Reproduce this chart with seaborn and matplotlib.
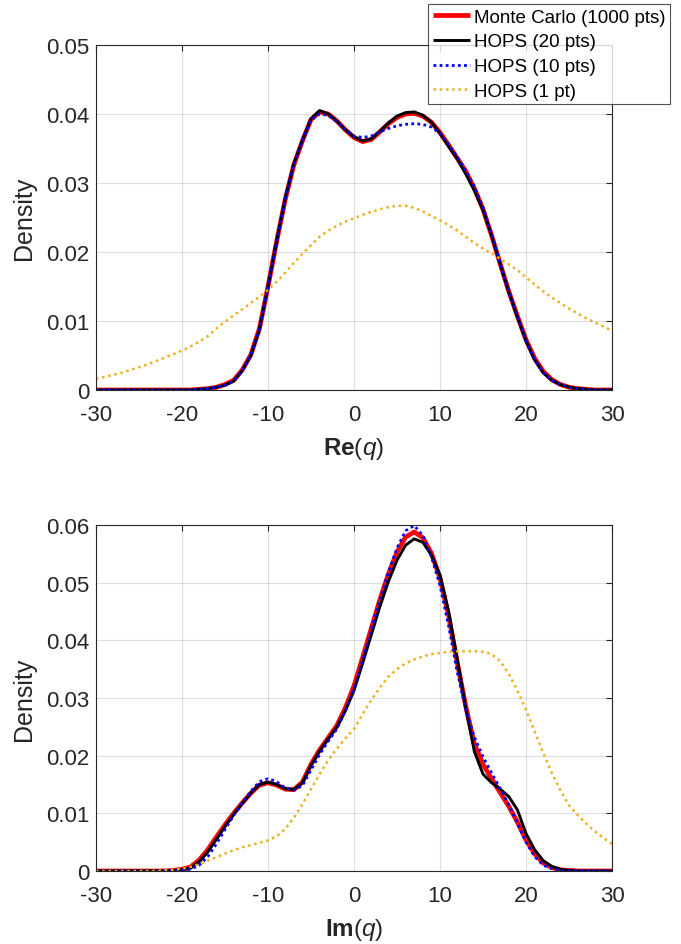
import numpy as np
import pandas as pd
import matplotlib
matplotlib.use("Agg")
import matplotlib.pyplot as plt
import seaborn as sns

# ---------------- data ----------------
q_grid = list(range(-30, 31))

re_mc = [0.0]*12 + [0.0001, 0.0002, 0.0004, 0.0008, 0.0014, 0.0029, 0.0051, 0.0089, 0.0150,
         0.0215, 0.0276, 0.0326, 0.0361, 0.0392, 0.0403, 0.0400, 0.0390, 0.0377, 0.0366,
         0.0360, 0.0363, 0.0374, 0.0386, 0.0395, 0.0400, 0.0401, 0.0397, 0.0388, 0.0373,
         0.0355, 0.0336, 0.0317, 0.0292, 0.0262, 0.0224, 0.0183, 0.0143, 0.0107, 0.0073,
         0.0046, 0.0027, 0.0015, 0.0008, 0.0004, 0.0002, 0.0001, 0.0, 0.0, 0.0]
re_h20 = [0.0]*12 + [0.0001, 0.0002, 0.0004, 0.0007, 0.0013, 0.0028, 0.0050, 0.0088, 0.0150,
          0.0216, 0.0278, 0.0328, 0.0362, 0.0393, 0.0405, 0.0400, 0.0390, 0.0377, 0.0367,
          0.0361, 0.0364, 0.0375, 0.0387, 0.0397, 0.0402, 0.0403, 0.0398, 0.0388, 0.0372,
          0.0353, 0.0335, 0.0313, 0.0289, 0.0261, 0.0224, 0.0182, 0.0142, 0.0106, 0.0071,
          0.0044, 0.0025, 0.0014, 0.0008, 0.0004, 0.0002, 0.0001, 0.0, 0.0, 0.0]
re_h10 = [0.0]*12 + [0.0001, 0.0002, 0.0004, 0.0007, 0.0013, 0.0028, 0.0050, 0.0088, 0.0149,
          0.0214, 0.0276, 0.0327, 0.0361, 0.0391, 0.0400, 0.0398, 0.0389, 0.0377, 0.0368,
          0.0366, 0.0368, 0.0374, 0.0379, 0.0383, 0.0385, 0.0386, 0.0385, 0.0381, 0.0372,
          0.0356, 0.0338, 0.0318, 0.0295, 0.0265, 0.0226, 0.0184, 0.0143, 0.0106, 0.0071,
          0.0044, 0.0025, 0.0014, 0.0008, 0.0004, 0.0002, 0.0001, 0.0, 0.0, 0.0]
re_h1 = [0.0016, 0.0019, 0.0022, 0.0025, 0.0029, 0.0033, 0.0037, 0.0042, 0.0047, 0.0052,
         0.0057, 0.0063, 0.0070, 0.0078, 0.0089, 0.0099, 0.0108, 0.0117, 0.0126, 0.0135,
         0.0145, 0.0157, 0.0170, 0.0184, 0.0197, 0.0210, 0.0222, 0.0231, 0.0238, 0.0244,
         0.0249, 0.0254, 0.0258, 0.0262, 0.0265, 0.0267, 0.0267, 0.0264, 0.0259, 0.0252,
         0.0246, 0.0239, 0.0231, 0.0222, 0.0213, 0.0205, 0.0198, 0.0190, 0.0182, 0.0174,
         0.0163, 0.0153, 0.0143, 0.0134, 0.0126, 0.0118, 0.0111, 0.0104, 0.0098, 0.0092, 0.0086]

im_mc = [0.0]*9 + [0.0001, 0.0003, 0.0007, 0.0019, 0.0037, 0.0059, 0.0080, 0.0100, 0.0118,
         0.0135, 0.0149, 0.0153, 0.0149, 0.0142, 0.0141, 0.0154, 0.0185, 0.0210, 0.0231,
         0.0252, 0.0283, 0.0321, 0.0370, 0.0420, 0.0470, 0.0515, 0.0553, 0.0579, 0.0588,
         0.0578, 0.0551, 0.0508, 0.0443, 0.0362, 0.0285, 0.0220, 0.0185, 0.0160, 0.0136,
         0.0112, 0.0085, 0.0054, 0.0030, 0.0014, 0.0006, 0.0002, 0.0001, 0.0, 0.0, 0.0, 0.0, 0.0]
im_h20 = [0.0]*9 + [0.0001, 0.0002, 0.0005, 0.0016, 0.0033, 0.0055, 0.0077, 0.0098, 0.0117,
          0.0135, 0.0150, 0.0154, 0.0150, 0.0143, 0.0141, 0.0153, 0.0183, 0.0208, 0.0229,
          0.0249, 0.0278, 0.0313, 0.0360, 0.0409, 0.0458, 0.0502, 0.0539, 0.0565, 0.0576,
          0.0570, 0.0548, 0.0513, 0.0450, 0.0368, 0.0282, 0.0207, 0.0168, 0.0153, 0.0142,
          0.0129, 0.0106, 0.0065, 0.0037, 0.0018, 0.0008, 0.0003, 0.0001, 0.0, 0.0, 0.0, 0.0, 0.0]
im_h10 = [0.0]*10 + [0.0001, 0.0003, 0.0010, 0.0025, 0.0047, 0.0072, 0.0096, 0.0118,
          0.0138, 0.0155, 0.0160, 0.0155, 0.0144, 0.0140, 0.0148, 0.0175, 0.0202, 0.0225,
          0.0246, 0.0278, 0.0315, 0.0365, 0.0418, 0.0470, 0.0518, 0.0560, 0.0590, 0.0599,
          0.0582, 0.0545, 0.0495, 0.0425, 0.0345, 0.0280, 0.0232, 0.0198, 0.0170, 0.0143,
          0.0115, 0.0083, 0.0050, 0.0025, 0.0010, 0.0004, 0.0001, 0.0, 0.0, 0.0, 0.0, 0.0, 0.0]
im_h1 = [0.0]*8 + [0.0001, 0.0002, 0.0004, 0.0007, 0.0012, 0.0018, 0.0024, 0.0030, 0.0036,
         0.0041, 0.0045, 0.0049, 0.0053, 0.0060, 0.0073, 0.0092, 0.0116, 0.0142, 0.0168,
         0.0192, 0.0212, 0.0230, 0.0246, 0.0272, 0.0296, 0.0318, 0.0337, 0.0350, 0.0360,
         0.0367, 0.0372, 0.0376, 0.0378, 0.0380, 0.0381, 0.0381, 0.0381, 0.0380, 0.0376,
         0.0364, 0.0342, 0.0313, 0.0280, 0.0242, 0.0205, 0.0170, 0.0140, 0.0114, 0.0097,
         0.0082, 0.0069, 0.0057, 0.0047]

series_labels = ["Monte Carlo (1000 pts)", "HOPS (20 pts)", "HOPS (10 pts)", "HOPS (1 pt)"]
x_ticks = [-30, -20, -10, 0, 10, 20, 30]
re_yticks = [0, 0.01, 0.02, 0.03, 0.04, 0.05]
im_yticks = [0, 0.01, 0.02, 0.03, 0.04, 0.05, 0.06]

# ---------------- style ----------------
sns.set_style("white")
plt.rcParams['font.family'] = ['Liberation Sans', 'DejaVu Sans']
plt.rcParams['mathtext.fontset'] = 'custom'
plt.rcParams['mathtext.rm'] = 'Liberation Sans'
plt.rcParams['mathtext.it'] = 'Liberation Sans:italic'
plt.rcParams['mathtext.bf'] = 'Liberation Sans:bold'
plt.rcParams['lines.solid_joinstyle'] = 'round'
plt.rcParams['lines.dash_joinstyle'] = 'round'

colors = ["#ff0000", "#000000", "#0000ff", "#edb120"]
widths = [3.4, 2.1, 2.0, 1.8]
styles = [(0, ()), (0, ()), (0, (1, 1.2)), (0, (1, 1.5))]
txt = "#262626"

fig = plt.figure(figsize=(6.81, 9.45), dpi=100)
ax1 = fig.add_axes([96/681, 1-391/945, 516/681, 345/945])
ax2 = fig.add_axes([96/681, 1-872/945, 516/681, 346/945])

def draw(ax, ys, yticks, ylim, xlabel):
    for y, lab, c, w, ls in zip(ys, series_labels, colors, widths, styles):
        df = pd.DataFrame({"q": q_grid, "density": y})
        sns.lineplot(data=df, x="q", y="density", ax=ax, color=c, linewidth=w,
                     linestyle=ls, label=lab, legend=False)
    ax.set_xlim(-30, 30)
    ax.set_ylim(*ylim)
    ax.set_xticks(x_ticks)
    ax.set_xticklabels([str(t) for t in x_ticks])
    ax.set_yticks(yticks)
    ax.set_yticklabels(["0" if t == 0 else f"{t:g}" for t in yticks])
    ax.grid(True, color=txt, alpha=0.15, linewidth=0.8)
    ax.tick_params(direction='in', length=4, width=0.8, labelsize=16,
                   top=True, right=True, colors=txt, labelcolor=txt)
    ax.tick_params(axis='x', pad=10)
    ax.tick_params(axis='y', pad=5)
    for s in ax.spines.values():
        s.set_color(txt)
        s.set_linewidth(0.8)
        s.set_visible(True)
    ax.set_ylabel("Density", fontsize=18, color=txt, labelpad=7)
    ax.set_xlabel(xlabel, fontsize=17.5, color=txt, labelpad=7)

draw(ax1, [re_mc, re_h20, re_h10, re_h1], re_yticks, (0, 0.05), r"$\mathbf{Re}(q)$")
draw(ax2, [im_mc, im_h20, im_h10, im_h1], im_yticks, (0, 0.06), r"$\mathbf{Im}(q)$")

handles, labels = ax1.get_legend_handles_labels()
leg = fig.legend(handles, labels, loc='upper right', bbox_to_anchor=(670/681, 1-5/945),
                 borderaxespad=0, frameon=True, fancybox=False, edgecolor=txt,
                 fontsize=13.5, handlelength=2.0, handletextpad=0.2, labelspacing=0.4,
                 borderpad=0.25)
leg.get_frame().set_linewidth(0.8)
for t in leg.get_texts():
    t.set_color("#000000")

fig.savefig("out.png", dpi=100)
